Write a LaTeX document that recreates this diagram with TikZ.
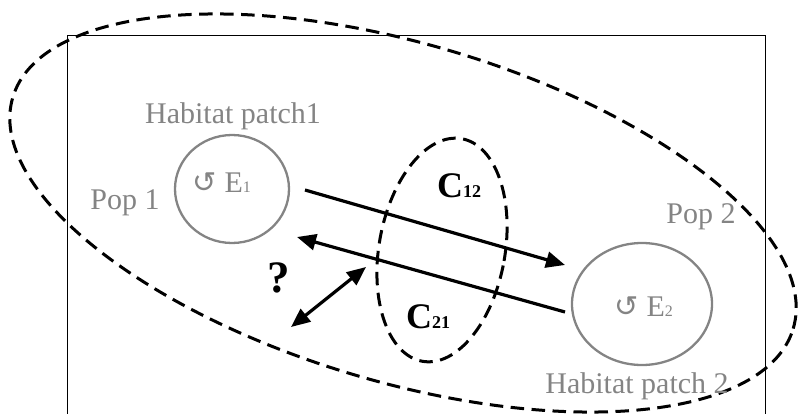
\documentclass[tikz,border=0pt]{standalone}
\usepackage{fontspec}
\setmainfont{Liberation Serif}
\newfontfamily\symfont{DejaVu Sans}
\usetikzlibrary{arrows.meta,shapes.geometric}
\definecolor{patchgray}{RGB}{132,132,132}
\begin{document}
\begin{tikzpicture}[x=1pt,y=-1pt,
  dashline/.style={line width=3pt, dash pattern=on 13.5pt off 7.5pt},
  patch/.style={draw=patchgray, line width=2.3pt, ellipse, inner sep=0pt},
  flow/.style={line width=3.2pt, -{Triangle[length=19pt,width=16pt]}},
  both/.style={line width=3.2pt, {Triangle[length=19pt,width=16pt]}-{Triangle[length=19pt,width=16pt]}},
  lbl/.style={text=patchgray, inner sep=0pt, font=\fontsize{30}{36}\selectfont},
  clbl/.style={inner sep=0pt, anchor=base west, font=\bfseries\fontsize{36}{42}\selectfont}]
\useasboundingbox (0,0) rectangle (799,414);
% frame
\draw[line width=1pt] (67,36) rectangle (765,440);
% habitat patches
\node[patch, minimum width=114pt, minimum height=108pt] (p1) at (232,189) {};
\node[patch, minimum width=140pt, minimum height=122pt] (p2) at (642,304) {};
% dashed ellipses
\draw[dashline, shift={(403,213)}, rotate=-16.5] (0,0) ellipse [x radius=407pt, y radius=169pt];
\draw[dashline, shift={(442,250)}, rotate=-10] (0,0) ellipse [x radius=63pt, y radius=113pt];
% labels
\node[lbl, anchor=base] (hp1) at (233,124) {Habitat patch1};
\node[lbl, anchor=base] (pop1) at (125,209) {Pop 1};
\node[lbl, anchor=base] (pop2) at (701,223) {Pop 2};
\node[lbl, anchor=base] (hp2) at (637,393) {Habitat patch 2};
\node[lbl, anchor=base west] (e1) at (192,192) {{\symfont\fontsize{29}{34}\selectfont ↺}\hspace{8pt}E{\fontsize{16}{18}\selectfont 1}};
\node[lbl, anchor=base west] (e2) at (614,316) {{\symfont\fontsize{29}{34}\selectfont ↺}\hspace{8pt}E{\fontsize{16}{18}\selectfont 2}};
\node[clbl] (c12) at (437,197) {C{\fontsize{18}{20}\selectfont 12}};
\node[clbl] (c21) at (406,328) {C{\fontsize{18}{20}\selectfont 21}};
\node[inner sep=0pt, font=\bfseries\fontsize{45}{52}\selectfont] (q) at (279,278) {?};
% arrows
\coordinate (a1s) at (305,190); \coordinate (a1e) at (565,265);
\coordinate (a2s) at (565,312); \coordinate (a2e) at (297,237);
\coordinate (a3s) at (291,327); \coordinate (a3e) at (366,267);
\draw[flow] (a1s) -- (a1e);
\draw[flow] (a2s) -- (a2e);
\draw[both] (a3s) -- (a3e);
\end{tikzpicture}
\end{document}
